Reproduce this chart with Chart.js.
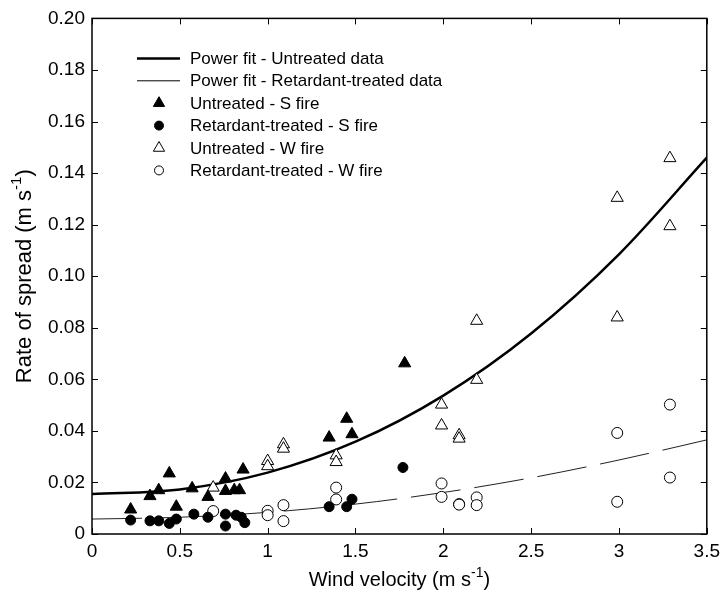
<!DOCTYPE html>
<html>
<head>
<meta charset="utf-8">
<script src="https://cdn.jsdelivr.net/npm/chart.js@4.4.1/dist/chart.umd.min.js"></script>
<style>
  html, body { margin: 0; padding: 0; background: #fff; }
  #wrap { width: 726px; height: 595px; }
</style>
</head>
<body>
<div id="wrap"><canvas id="ros"></canvas></div>
<script>
// wind velocity (m/s) and rate of spread (m/s)
const untreatedSX = [0.22, 0.33, 0.38, 0.44, 0.48, 0.57, 0.66, 0.76, 0.76, 0.81, 0.84, 0.86, 1.35, 1.45, 1.48, 1.78];
const untreatedSY = [0.0095, 0.0147, 0.0170, 0.0235, 0.0106, 0.0177, 0.0144, 0.0215, 0.0167, 0.0170, 0.0170, 0.0250, 0.0374, 0.0447, 0.0387, 0.0662];

const retardantSX = [0.22, 0.33, 0.38, 0.44, 0.48, 0.58, 0.66, 0.76, 0.76, 0.82, 0.85, 0.87, 1.35, 1.45, 1.48, 1.77];
const retardantSY = [0.0054, 0.0051, 0.0051, 0.0041, 0.0058, 0.0077, 0.0065, 0.0077, 0.0031, 0.0073, 0.0065, 0.0044, 0.0106, 0.0106, 0.0135, 0.0258];

const untreatedWX = [0.69, 1.0, 1.0, 1.09, 1.09, 1.39, 1.39, 1.99, 1.99, 2.09, 2.09, 2.19, 2.19, 2.99, 2.99, 3.29, 3.29];
const untreatedWY = [0.0180, 0.0283, 0.0263, 0.0348, 0.0331, 0.0305, 0.0279, 0.0502, 0.0421, 0.0383, 0.0370, 0.0598, 0.0827, 0.1304, 0.0840, 0.1458, 0.1194];

const retardantWX = [0.69, 1.0, 1.0, 1.09, 1.09, 1.39, 1.39, 1.99, 1.99, 2.09, 2.09, 2.19, 2.19, 2.99, 2.99, 3.29, 3.29];
const retardantWY = [0.0089, 0.0090, 0.0073, 0.0112, 0.0050, 0.0180, 0.0134, 0.0196, 0.0144, 0.0116, 0.0114, 0.0142, 0.0112, 0.0392, 0.0125, 0.0502, 0.0219];

// power fit curves, read at every 0.5 m/s
const fitX = [0, 0.5, 1, 1.5, 2, 2.5, 3, 3.5];
const fitUntreated = [0.0155, 0.0173, 0.0238, 0.0358, 0.0537, 0.0778, 0.1085, 0.146];
const fitRetardant = [0.0058, 0.0065, 0.0084, 0.0116, 0.0161, 0.0218, 0.0287, 0.0365];

const FONT = "Arial, 'Liberation Sans', sans-serif";

function pairs(xs, ys) {
  return xs.map((x, i) => ({ x: x, y: ys[i] }));
}

// texto con superindice: partes [texto, esSup]
function drawSupText(ctx, parts, cx, cy, size) {
  const supSize = Math.round(size * 0.7);
  let total = 0;
  parts.forEach((p) => {
    ctx.font = (p[1] ? supSize : size) + "px " + FONT;
    total += ctx.measureText(p[0]).width;
  });
  let x = cx - total / 2;
  ctx.textBaseline = "middle";
  ctx.textAlign = "left";
  parts.forEach((p) => {
    ctx.font = (p[1] ? supSize : size) + "px " + FONT;
    ctx.fillText(p[0], x, p[1] ? cy - size * 0.35 : cy);
    x += ctx.measureText(p[0]).width;
  });
}

const boxPlugin = {
  id: "boxPlugin",
  afterDraw(chart) {
    const ctx = chart.ctx;
    const a = chart.chartArea;
    const xs = chart.scales.x;
    const ys = chart.scales.y;
    ctx.save();
    ctx.strokeStyle = "#000";
    ctx.lineWidth = 1.5;
    ctx.strokeRect(a.left, a.top, a.right - a.left, a.bottom - a.top);

    // ticks hacia dentro en los cuatro lados
    ctx.lineWidth = 1;
    const len = 6;
    xs.ticks.forEach((t) => {
      const px = Math.round(xs.getPixelForValue(t.value)) + 0.5;
      ctx.beginPath();
      ctx.moveTo(px, a.bottom);
      ctx.lineTo(px, a.bottom - len);
      ctx.moveTo(px, a.top);
      ctx.lineTo(px, a.top + len);
      ctx.stroke();
    });
    ys.ticks.forEach((t) => {
      const py = Math.round(ys.getPixelForValue(t.value)) + 0.5;
      ctx.beginPath();
      ctx.moveTo(a.left, py);
      ctx.lineTo(a.left + len, py);
      ctx.moveTo(a.right, py);
      ctx.lineTo(a.right - len, py);
      ctx.stroke();
    });

    // titulos de ejes
    ctx.fillStyle = "#000";
    drawSupText(ctx, [["Wind velocity (m s", 0], ["-1", 1], [")", 0]], (a.left + a.right) / 2, 580, 20);
    ctx.save();
    ctx.translate(25, (a.top + a.bottom) / 2);
    ctx.rotate(-Math.PI / 2);
    drawSupText(ctx, [["Rate of spread (m s", 0], ["-1", 1], [")", 0]], 0, 0, 22);
    ctx.restore();

    // leyenda
    const rows = [
      { text: "Power fit - Untreated data", line: 2.5 },
      { text: "Power fit - Retardant-treated data", line: 1 },
      { text: "Untreated - S fire", style: "triangle", fill: "#000" },
      { text: "Retardant-treated - S fire", style: "circle", fill: "#000" },
      { text: "Untreated - W fire", style: "triangle", fill: "#fff" },
      { text: "Retardant-treated - W fire", style: "circle", fill: "#fff" },
    ];
    const lx = a.left + 45;
    const mx = a.left + 67;
    const tx = a.left + 98;
    ctx.font = "17px " + FONT;
    ctx.textAlign = "left";
    ctx.textBaseline = "middle";
    rows.forEach((r, i) => {
      const y = a.top + 40 + i * 22.4;
      if (r.line) {
        ctx.strokeStyle = "#000";
        ctx.lineWidth = r.line;
        ctx.beginPath();
        ctx.moveTo(lx, y);
        ctx.lineTo(lx + 43, y);
        ctx.stroke();
      } else {
        ctx.fillStyle = r.fill;
        ctx.strokeStyle = "#000";
        ctx.lineWidth = 1;
        Chart.helpers.drawPoint(ctx, { pointStyle: r.style, radius: r.style === "triangle" ? 6.5 : 4.5, borderWidth: 1 }, mx, y);
      }
      ctx.fillStyle = "#000";
      ctx.fillText(r.text, tx, y + 1);
    });
    ctx.restore();
  },
};

const ctx = document.getElementById("ros").getContext("2d");

new Chart(ctx, {
  type: "scatter",
  data: {
    datasets: [
      {
        label: "Untreated - S fire",
        data: pairs(untreatedSX, untreatedSY),
        pointStyle: "triangle",
        pointRadius: 7,
        backgroundColor: "#000",
        borderColor: "#000",
        borderWidth: 1,
      },
      {
        label: "Retardant-treated - S fire",
        data: pairs(retardantSX, retardantSY),
        pointStyle: "circle",
        pointRadius: 5,
        backgroundColor: "#000",
        borderColor: "#000",
        borderWidth: 1,
      },
      {
        label: "Untreated - W fire",
        data: pairs(untreatedWX, untreatedWY),
        pointStyle: "triangle",
        pointRadius: 7,
        backgroundColor: "#fff",
        borderColor: "#000",
        borderWidth: 1,
      },
      {
        label: "Retardant-treated - W fire",
        data: pairs(retardantWX, retardantWY),
        pointStyle: "circle",
        pointRadius: 5.5,
        backgroundColor: "#fff",
        borderColor: "#000",
        borderWidth: 1,
      },
      {
        label: "Power fit - Untreated data",
        type: "line",
        data: pairs(fitX, fitUntreated),
        showLine: true,
        pointRadius: 0,
        borderColor: "#000",
        borderWidth: 2.5,
        cubicInterpolationMode: "monotone",
        fill: false,
      },
      {
        label: "Power fit - Retardant-treated data",
        type: "line",
        data: pairs(fitX, fitRetardant),
        showLine: true,
        pointRadius: 0,
        borderColor: "#222",
        borderWidth: 1,
        borderDash: [50, 14],
        cubicInterpolationMode: "monotone",
        fill: false,
      },
    ],
  },
  options: {
    responsive: true,
    maintainAspectRatio: false,
    animation: false,
    layout: {
      padding: { top: 17, right: 15, left: 0, bottom: 0 },
    },
    plugins: {
      legend: { display: false },
      tooltip: { enabled: false },
    },
    scales: {
      x: {
        type: "linear",
        min: 0,
        max: 3.5,
        grid: { display: false, drawTicks: false },
        border: { display: false },
        ticks: {
          stepSize: 0.5,
          padding: 6,
          color: "#000",
          maxRotation: 0,
          font: { size: 19, family: FONT },
          callback: (v) => String(v),
        },
        afterFit: (scale) => { scale.height = 61; },
      },
      y: {
        min: 0,
        max: 0.2,
        grid: { display: false, drawTicks: false },
        border: { display: false },
        ticks: {
          stepSize: 0.02,
          padding: 7,
          color: "#000",
          font: { size: 19, family: FONT },
          callback: (v) => (v === 0 ? "0" : v.toFixed(2)),
        },
        afterFit: (scale) => { scale.width = 92; },
      },
    },
  },
  plugins: [boxPlugin],
});
</script>
</body>
</html>
